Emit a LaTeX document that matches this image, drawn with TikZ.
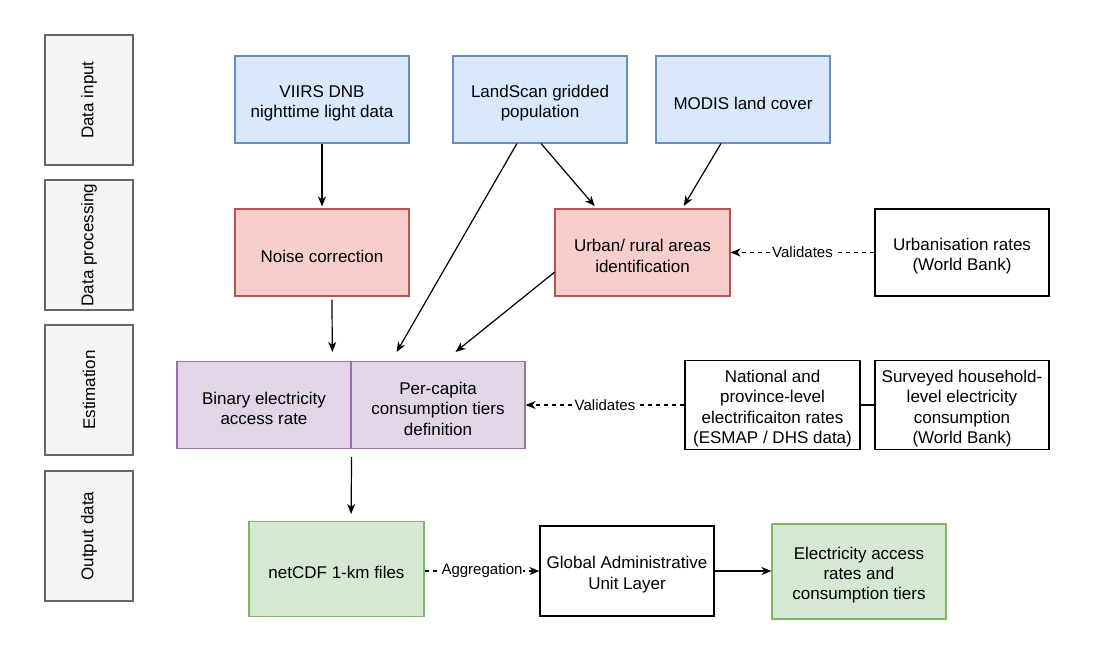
\documentclass[tikz,border=0pt]{standalone}
\usepackage{fontspec}
\setmainfont{Liberation Sans}
\usetikzlibrary{arrows.meta,calc}
\definecolor{grayfill}{HTML}{F5F5F5}
\definecolor{graydraw}{HTML}{666666}
\definecolor{bluefill}{HTML}{DAE8FC}
\definecolor{bluedraw}{HTML}{6C8EBF}
\definecolor{redfill}{HTML}{F8CECC}
\definecolor{reddraw}{HTML}{B85450}
\definecolor{purpfill}{HTML}{E1D5E7}
\definecolor{purpdraw}{HTML}{9673A6}
\definecolor{greenfill}{HTML}{D5E8D4}
\definecolor{greendraw}{HTML}{82B366}
\newcommand{\topstrut}{\rule{0pt}{19.5pt}}
\begin{document}
\begin{tikzpicture}[x=1pt,y=-1pt,
  box/.style={draw, line width=1.1pt, minimum width=174pt, minimum height=87pt,
    align=center, inner sep=2pt, font=\fontsize{17}{20.4}\selectfont},
  lane/.style={draw=graydraw, fill=grayfill, line width=1.3pt, minimum width=88pt,
    minimum height=130pt, inner sep=0pt},
  lanetext/.style={rotate=90, font=\fontsize{17}{20.4}\selectfont},
  inputbox/.style={box, fill=bluefill, draw=bluedraw},
  procbox/.style={box, fill=redfill, draw=reddraw},
  estbox/.style={box, fill=purpfill, draw=purpdraw},
  outbox/.style={box, fill=greenfill, draw=greendraw},
  plainbox/.style={box, fill=white, draw=black},
  arr/.style={-{Stealth[length=10pt,width=8pt,inset=3pt]}, line width=1.2pt},
  darr/.style={arr, dash pattern=on 4.5pt off 3.5pt},
  lbl/.style={fill=white, inner sep=1pt, font=\fontsize{15}{18}\selectfont}
]
\useasboundingbox[fill=white] (0,0) rectangle (1099,648);

% swimlane labels
\node[lane] (lane1) at (89,100) {};
\node[lanetext] (lane1t) at (lane1.center) {Data input};
\node[lane] (lane2) at (89,245) {};
\node[lanetext] (lane2t) at (lane2.center) {Data processing};
\node[lane] (lane3) at (89,390) {};
\node[lanetext] (lane3t) at (lane3.center) {Estimation};
\node[lane] (lane4) at (89,536) {};
\node[lanetext] (lane4t) at (lane4.center) {Output data};

% data input
\node[inputbox] (viirs) at (322,99.5) {\topstrut VIIRS DNB\\nighttime light data};
\node[inputbox] (land) at (540,99.5) {\topstrut LandScan gridded\\population};
\node[inputbox] (modis) at (743,99.5) {\topstrut MODIS land cover};

% processing
\node[procbox] (noise) at (322,252.5) {\topstrut Noise correction};
\node[procbox, minimum width=175pt] (urban) at (642.5,252.5) {\topstrut Urban/ rural areas\\identification};
\node[plainbox] (urbr) at (962,252.5) {\topstrut Urbanisation rates\\(World Bank)};

% estimation
\node[estbox] (bin) at (264,405) {\topstrut Binary electricity\\access rate};
\node[estbox] (pc) at (438,405) {\topstrut Per-capita\\consumption tiers\\definition};
\node[plainbox, minimum width=175pt] (nat) at (772.5,405) {\topstrut National and\\province-level\\electrificaiton rates\\(ESMAP / DHS data)};
\node[plainbox] (surv) at (962,405) {\topstrut Surveyed household-\\level electricity\\consumption\\(World Bank)};

% output
\node[outbox, minimum width=175pt, minimum height=95pt] (net) at (336.5,569) {\topstrut netCDF 1-km files};
\node[plainbox, minimum height=90pt] (gaul) at (627,571) {\topstrut Global Administrative\\Unit Layer};
\node[outbox, minimum height=95pt] (elec) at (859,571.5) {\topstrut Electricity access\\rates and\\consumption tiers};

% connectors
\draw[arr, shorten >=2pt] (viirs.south) -- (noise.north);
\draw[arr] ($(land.south west)!0.368!(land.south east)$) -- ($(pc.north west)!0.264!(pc.north east)+(0,-9)$);
\draw[arr, shorten >=3pt] ($(land.south west)!0.506!(land.south east)$) -- ($(urban.north west)!0.24!(urban.north east)$);
\draw[arr, shorten >=3pt] ($(modis.south west)!0.374!(modis.south east)$) -- ($(urban.north west)!0.726!(urban.north east)$);
\draw[arr] ($(noise.south west)!0.557!(noise.south east)+(0,3)$) -- ($(bin.north west)!0.89!(bin.north east)+(0,-9)$);
\draw[arr] ($(urban.north west)!0.724!(urban.south west)$) -- ($(pc.north west)!0.6!(pc.north east)+(0,-9)$);
\draw[arr] ($(bin.south east)+(0,8)$) -- ($(net.north west)!0.583!(net.north east)+(0,-7)$);

\draw[darr] (urbr.west) -- node[lbl] {Validates} (urban.east);
\draw[darr] (nat.west) -- node[lbl] {Validates} (pc.east);
\draw[darr] (net.east |- gaul.west) -- node[lbl] {Aggregation} (gaul.west);
\draw[arr] (gaul.east) -- (elec.west |- gaul.east);
\draw[line width=1.2pt] (nat.east) -- (surv.west);
\end{tikzpicture}
\end{document}
